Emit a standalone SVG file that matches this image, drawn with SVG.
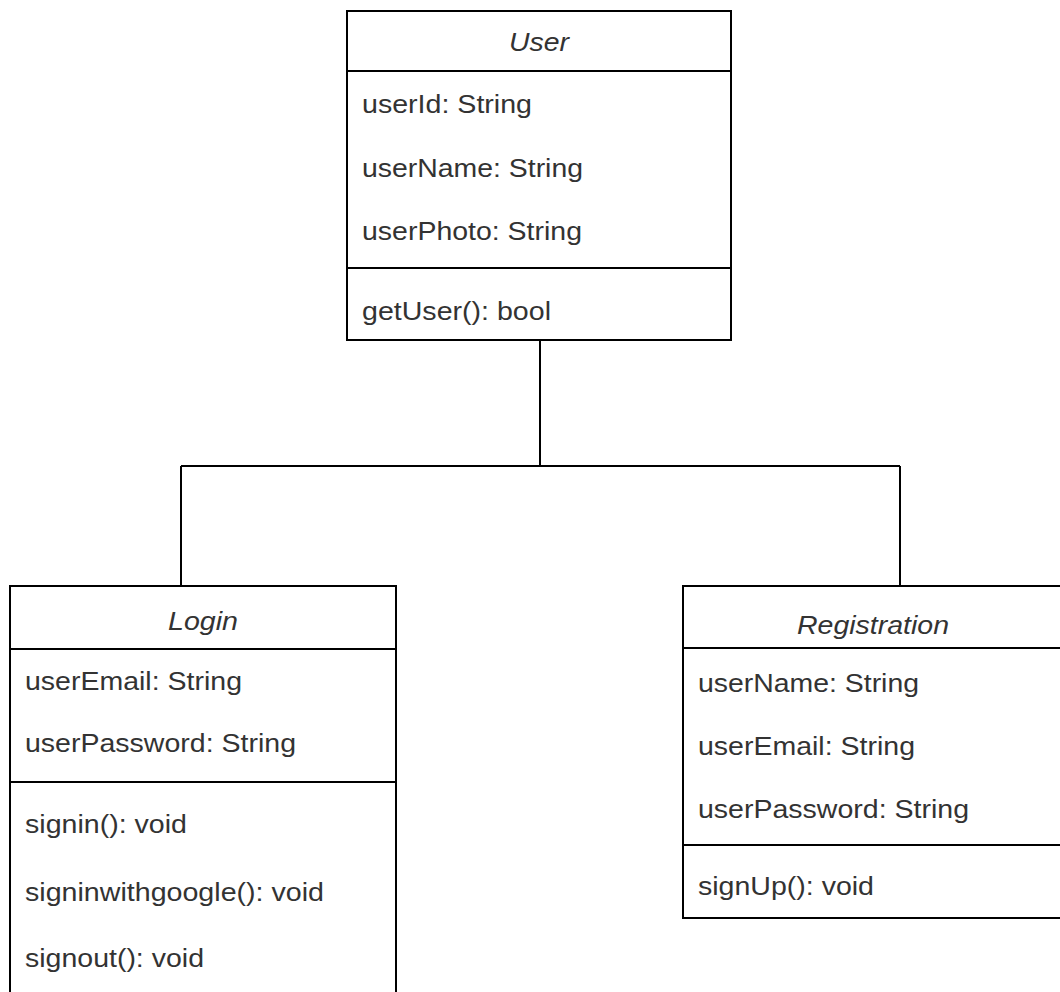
<svg xmlns="http://www.w3.org/2000/svg" width="1060" height="992" viewBox="0 0 1060 992">
<style>
.box{fill:#fff;stroke:#000;stroke-width:2}
.div{stroke:#000;stroke-width:2}
.t{font-family:"Liberation Sans",Arial,sans-serif;font-size:26px;fill:#333}
.h{font-style:italic;text-anchor:middle}
.conn{fill:none;stroke:#000;stroke-width:2}
</style>
<rect width="1060" height="992" fill="#fff"/>
<g id="connectors">
<path class="conn" d="M540,341 V466 M181,466 H900 M181,466 V586 M900,466 V586"/>
</g>
<g id="User">
<rect class="box" x="347" y="11" width="384" height="329"/>
<line class="div" x1="347" y1="71" x2="731" y2="71"/>
<line class="div" x1="347" y1="268" x2="731" y2="268"/>
<text class="t h" x="539" y="51" textLength="60" lengthAdjust="spacingAndGlyphs">User</text>
<text class="t" x="362" y="113" textLength="170" lengthAdjust="spacingAndGlyphs">userId: String</text>
<text class="t" x="362" y="177" textLength="221" lengthAdjust="spacingAndGlyphs">userName: String</text>
<text class="t" x="362" y="240" textLength="220" lengthAdjust="spacingAndGlyphs">userPhoto: String</text>
<text class="t" x="362" y="320" textLength="189" lengthAdjust="spacingAndGlyphs">getUser(): bool</text>
</g>
<g id="Login">
<rect class="box" x="10" y="586" width="386" height="420"/>
<line class="div" x1="10" y1="649" x2="396" y2="649"/>
<line class="div" x1="10" y1="782" x2="396" y2="782"/>
<text class="t h" x="203" y="630" textLength="70" lengthAdjust="spacingAndGlyphs">Login</text>
<text class="t" x="25" y="690" textLength="217" lengthAdjust="spacingAndGlyphs">userEmail: String</text>
<text class="t" x="25" y="752" textLength="271" lengthAdjust="spacingAndGlyphs">userPassword: String</text>
<text class="t" x="25" y="833" textLength="162" lengthAdjust="spacingAndGlyphs">signin(): void</text>
<text class="t" x="25" y="901" textLength="299" lengthAdjust="spacingAndGlyphs">signinwithgoogle(): void</text>
<text class="t" x="25" y="967" textLength="179" lengthAdjust="spacingAndGlyphs">signout(): void</text>
</g>
<g id="Registration">
<rect class="box" x="683" y="586" width="382" height="332"/>
<line class="div" x1="683" y1="648" x2="1065" y2="648"/>
<line class="div" x1="683" y1="845" x2="1065" y2="845"/>
<text class="t h" x="873" y="634" textLength="152" lengthAdjust="spacingAndGlyphs">Registration</text>
<text class="t" x="698" y="692" textLength="221" lengthAdjust="spacingAndGlyphs">userName: String</text>
<text class="t" x="698" y="755" textLength="217" lengthAdjust="spacingAndGlyphs">userEmail: String</text>
<text class="t" x="698" y="818" textLength="271" lengthAdjust="spacingAndGlyphs">userPassword: String</text>
<text class="t" x="698" y="895" textLength="176" lengthAdjust="spacingAndGlyphs">signUp(): void</text>
</g>
</svg>
